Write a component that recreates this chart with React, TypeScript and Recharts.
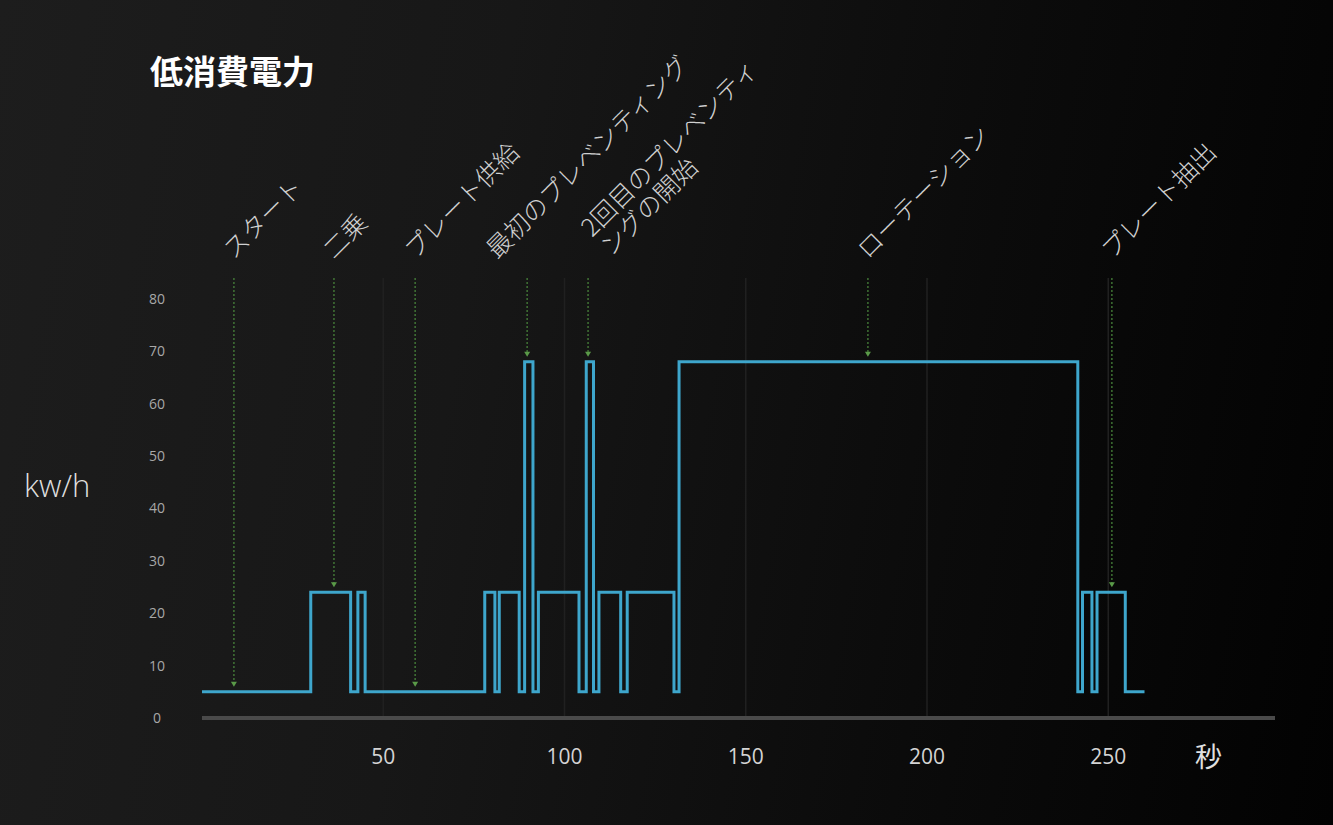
import React from 'react';
import { LineChart, Line, XAxis, YAxis, ReferenceLine } from 'recharts';

// Step profile: time (s) where a new power level (kW) begins
const times = [0, 30, 41, 43, 45, 78, 80.8, 82, 87.5, 89, 91.3, 92.8, 104, 106, 108, 109.5, 115.5, 117.3, 130.2, 131.6, 241.6, 242.9, 245.5, 246.9, 254.7, 260];
const power = [5, 24, 5, 24, 5, 24, 5, 24, 5, 68, 5, 24, 5, 68, 5, 24, 5, 24, 5, 68, 5, 24, 5, 24, 5, 5];

const xTicks = [50, 100, 150, 200, 250];
const yTicks = [0, 10, 20, 30, 40, 50, 60, 70, 80];

const eventTimes = [8.8, 36.4, 58.8, 89.7, 106.5, 183.7, 251];
const eventLabels = [
  ['スタート'],
  ['二乗'],
  ['プレート供給'],
  ['最初のプレベンティング'],
  ['2回目のプレベンティ', 'ングの開始'],
  ['ローテーション'],
  ['プレート抽出'],
];

const data = times.map((t, i) => ({ t, v: power[i] }));

const stepValue = (t: number) => {
  let v = power[0];
  for (let i = 0; i < times.length; i++) {
    if (times[i] <= t) v = power[i];
  }
  return v;
};

const Y_TOP = 84;
const labelNudge: Record<number, { dx: number; dy: number }> = {
  3: { dx: -30, dy: 0 },
  4: { dx: 4, dy: -22 },
};

const CJK = '"Noto Sans CJK JP", "Noto Sans", sans-serif';
const LATIN = '"Open Sans", "Noto Sans", sans-serif';

const renderAnnotation = (p: any, i: number) => {
  const x = p.x1;
  const top = Math.min(p.y1, p.y2);
  const bottom = Math.max(p.y1, p.y2);
  const tip = bottom - 5;
  const nudge = labelNudge[i] || { dx: 0, dy: 0 };
  const bx = x + nudge.dx;
  const by = top - 18 + nudge.dy;
  const lines = eventLabels[i];
  return (
    <g>
      <line x1={x} y1={top} x2={x} y2={tip - 4} stroke="#4c8c3e" strokeWidth={1.5} strokeDasharray="2 2" opacity={0.8} />
      <polygon points={`${x - 3},${tip - 5} ${x + 3},${tip - 5} ${x},${tip}`} fill="#5a9a48" />
      <text
        x={bx}
        y={by}
        transform={`rotate(-45 ${bx} ${by})`}
        fill="#d0d0d0"
        fontSize={25}
        fontWeight={300}
        fontFamily={CJK}
      >
        {lines.map((ln, k) => (
          <tspan key={k} x={bx} dy={k === 0 ? 0 : 27}>
            {ln}
          </tspan>
        ))}
      </text>
    </g>
  );
};

const gridLine = (p: any) => (
  <line x1={p.x1} y1={p.y1} x2={p.x2} y2={p.y2} stroke="#202020" strokeWidth={1.5} />
);

const YTick = (props: any) => {
  const { x, y, payload } = props;
  return (
    <text x={x - 45} y={y} dy={5} textAnchor="middle" fill="#a8a8a8" fontSize={14} fontFamily={LATIN}>
      {payload.value}
    </text>
  );
};

const XTick = (props: any) => {
  const { x, y, payload } = props;
  return (
    <text x={x} y={y + 46} textAnchor="middle" fill="#d4d4d4" fontSize={21} fontFamily={LATIN}>
      {payload.value}
    </text>
  );
};

export default function App() {
  return (
    <div
      style={{
        position: 'absolute',
        left: 0,
        top: 0,
        width: 1333,
        height: 825,
        overflow: 'hidden',
        background: 'linear-gradient(100deg, #1d1d1d 0%, #171717 35%, #0b0b0b 70%, #020202 100%)',
      }}
    >
      <div
        style={{
          position: 'absolute',
          left: 150,
          top: 51,
          fontSize: 33,
          lineHeight: '38px',
          fontWeight: 700,
          color: '#ffffff',
          fontFamily: CJK,
        }}
      >
        低消費電力
      </div>
      <div
        style={{
          position: 'absolute',
          left: 24,
          top: 467,
          fontSize: 31,
          lineHeight: '36px',
          fontWeight: 300,
          color: '#dedede',
          fontFamily: LATIN,
        }}
      >
        kw/h
      </div>
      <div
        style={{
          position: 'absolute',
          left: 1195,
          top: 740,
          fontSize: 27,
          lineHeight: '32px',
          fontWeight: 400,
          color: '#e0e0e0',
          fontFamily: CJK,
        }}
      >
        秒
      </div>
      <LineChart
        width={1333}
        height={825}
        data={data}
        margin={{ top: 278, right: 58, bottom: 77, left: 122 }}
        style={{ position: 'absolute', left: 0, top: 0 }}
      >
        <XAxis
          dataKey="t"
          type="number"
          domain={[0, 296]}
          ticks={xTicks}
          height={30}
          tickLine={false}
          tickSize={0}
          tickMargin={0}
          axisLine={{ stroke: '#4a4a4a', strokeWidth: 4 }}
          tick={<XTick />}
          interval={0}
        />
        <YAxis
          type="number"
          domain={[0, Y_TOP]}
          ticks={yTicks}
          width={80}
          axisLine={false}
          tickLine={false}
          tickSize={0}
          tickMargin={0}
          tick={<YTick />}
          interval={0}
        />
        {xTicks.map((t) => (
          <ReferenceLine key={`g${t}`} x={t} stroke="#202020" shape={gridLine} />
        ))}
        {eventTimes.map((t, i) => (
          <ReferenceLine
            key={i}
            segment={[
              { x: t, y: Y_TOP },
              { x: t, y: stepValue(t) },
            ]}
            stroke="#4c8c3e"
            shape={(p: any) => renderAnnotation(p, i)}
          />
        ))}
        <Line
          type="stepAfter"
          dataKey="v"
          stroke="#3ea6cc"
          strokeWidth={3}
          dot={false}
          activeDot={false}
          isAnimationActive={false}
        />
      </LineChart>
    </div>
  );
}
